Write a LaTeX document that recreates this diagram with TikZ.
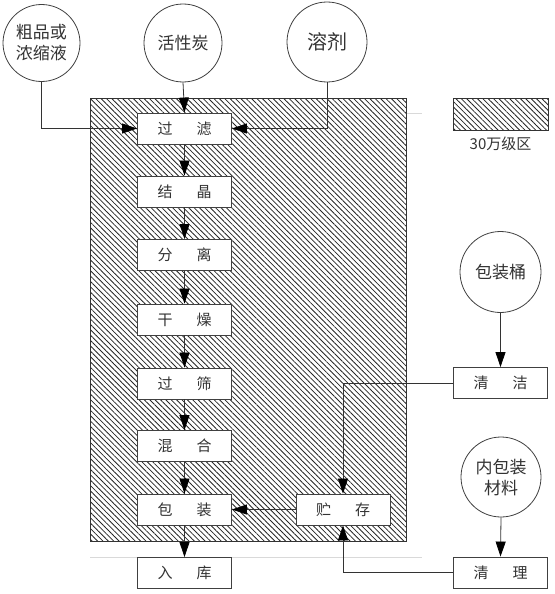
\documentclass[tikz,border=0pt]{standalone}
\usepackage{fontspec}
\newfontfamily\cjk{Noto Sans CJK SC}
\usetikzlibrary{arrows.meta,patterns.meta}
\begin{document}
\begin{tikzpicture}[x=1pt,y=-1pt,
  font=\cjk,
  line/.style={draw=black!80,line width=0.8pt},
  arr/.style={line,-{Triangle[length=15pt,width=10pt,fill=black,color=black]}},
  stepbox/.style={draw=black!75,line width=0.9pt,fill=white,minimum width=94pt,minimum height=31pt,inner sep=0pt,font=\cjk\fontsize{15}{15}\selectfont,text=black!80},
  src/.style={draw=black!75,line width=0.8pt,circle,inner sep=0pt,fill=white,align=center,font=\cjk\fontsize{17}{21}\selectfont,text=black!80},
  hatch/.style={draw=black!80,line width=0.9pt,pattern={Lines[angle=-45,distance=3.8pt,line width=0.8pt]},pattern color=black!85}
]
\useasboundingbox (0,0) rectangle (554,594);
% faint artefact lines
\draw[black!15,line width=0.8pt] (406,113) -- (422,113);
\draw[black!15,line width=0.8pt] (90,557) -- (422,557);
% clean zone
\path[hatch] (90,98) rectangle (406,541);
\path[hatch] (453,98) rectangle (548,130);
\node[font=\cjk\fontsize{15}{15}\selectfont,text=black!80] (leg) at (500.5,144) {30万级区};
% sources
\node[src,minimum size=77pt] (c1) at (41.5,43) {粗品或\\浓缩液};
\node[src,minimum size=78pt] (c2) at (183,43) {活性炭};
\node[src,minimum size=80pt,font=\cjk\fontsize{20}{22}\selectfont] (c3) at (327,42) {溶剂};
\node[src,minimum size=81pt] (c4) at (500.5,272) {包装桶};
\node[src,minimum size=80pt] (c5) at (501,477) {内包装\\材料};
% steps
\node[stepbox] (b1) at (184.5,128.5) {过\hspace{1.6em}滤};
\node[stepbox] (b2) at (184.5,191.5) {结\hspace{1.6em}晶};
\node[stepbox] (b3) at (184.5,255) {分\hspace{1.6em}离};
\node[stepbox] (b4) at (184.5,319.5) {干\hspace{1.6em}燥};
\node[stepbox] (b5) at (184.5,383.5) {过\hspace{1.6em}筛};
\node[stepbox] (b6) at (184.5,446) {混\hspace{1.6em}合};
\node[stepbox] (b7) at (184.5,509.5) {包\hspace{1.6em}装};
\node[stepbox] (b8) at (184.5,573) {入\hspace{1.6em}库};
\node[stepbox] (s) at (343,509.5) {贮\hspace{1.6em}存};
\node[stepbox] (q1) at (500.5,383) {清\hspace{1.6em}洁};
\node[stepbox] (q2) at (500.5,572.5) {清\hspace{1.6em}理};
% connectors
\draw[arr] (c1.south) |- (b1.west);
\draw[arr] (c2.south) -- (b1.north);
\draw[arr] (c3.south) |- (b1.east);
\draw[arr] (b1) -- (b2);
\draw[arr] (b2) -- (b3);
\draw[arr] (b3) -- (b4);
\draw[arr] (b4) -- (b5);
\draw[arr] (b5) -- (b6);
\draw[arr] (b6) -- (b7);
\draw[arr] (b7) -- (b8);
\draw[arr] (c4.south) -- (q1.north);
\draw[arr] (c5.south) -- (q2.north);
\draw[arr] (q1.west) -| (s.north);
\draw[arr] (q2.west) -| (s.south);
\draw[arr] (s.west) -- (b7.east);
\end{tikzpicture}
\end{document}
